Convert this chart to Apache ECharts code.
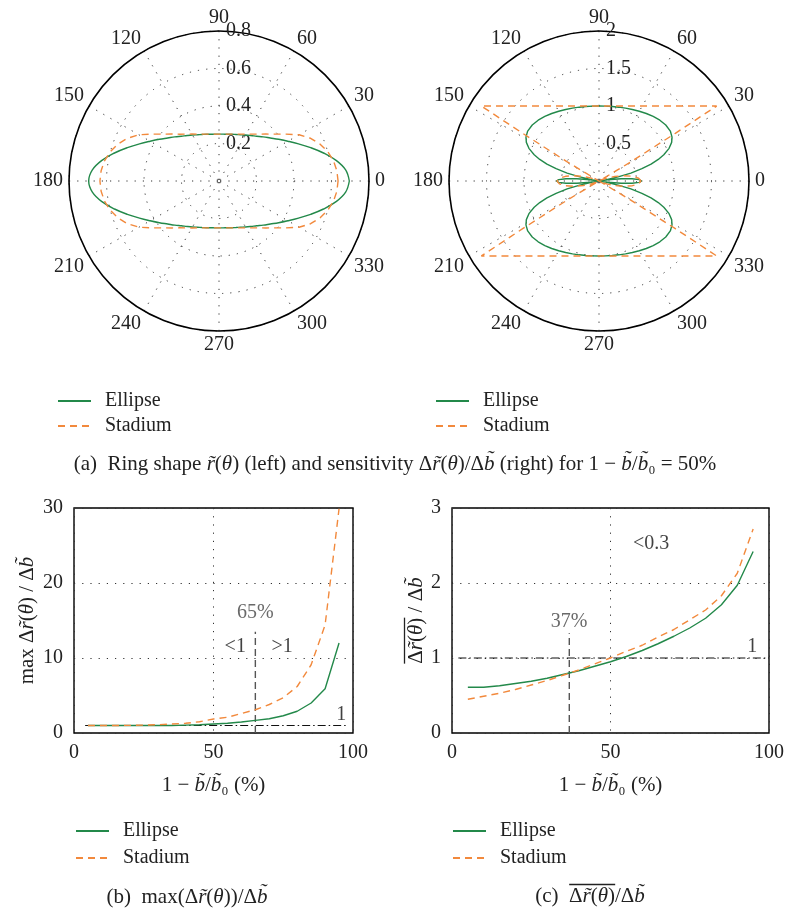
<!DOCTYPE html>
<html><head><meta charset="utf-8">
<script src="https://cdn.jsdelivr.net/npm/echarts@6/dist/echarts.min.js"></script>
<style>html,body{margin:0;padding:0;background:#fff}#c{width:787px;height:914px}</style>
</head><body><div id="c"></div><script>
const FONT = '"Liberation Serif", "DejaVu Serif", serif';
const GREEN = '#23894a';
const ORANGE = '#f2893c';

// ---- (a) left: ring shape r(theta), angles in degrees ----
const leftAngles = [0,5,10,15,20,25,30,35,40,45,50,55,60,65,70,75,80,85,90,
  95,100,105,110,115,120,125,130,135,140,145,150,155,160,165,170,175,180,
  185,190,195,200,205,210,215,220,225,230,235,240,245,250,255,260,265,270,
  275,280,285,290,295,300,305,310,315,320,325,330,335,340,345,350,355,360];
const leftEllipse = [.695,.678,.634,.577,.520,.468,.424,.388,.357,.333,.312,.296,.283,.272,.264,.258,.253,.251,.250,
  .251,.253,.258,.264,.272,.283,.296,.312,.333,.357,.388,.424,.468,.520,.577,.634,.678,.695,
  .678,.634,.577,.520,.468,.424,.388,.357,.333,.312,.296,.283,.272,.264,.258,.253,.251,.250,
  .251,.253,.258,.264,.272,.283,.296,.312,.333,.357,.388,.424,.468,.520,.577,.634,.678,.695];
const leftStadium = [.635,.631,.620,.601,.574,.539,.493,.436,.389,.354,.326,.305,.289,.276,.266,.259,.254,.251,.250,
  .251,.254,.259,.266,.276,.289,.305,.326,.354,.389,.436,.493,.539,.574,.601,.620,.631,.635,
  .631,.620,.601,.574,.539,.493,.436,.389,.354,.326,.305,.289,.276,.266,.259,.254,.251,.250,
  .251,.254,.259,.266,.276,.289,.305,.326,.354,.389,.436,.493,.539,.574,.601,.620,.631,.635];

// ---- (a) right: sensitivity ----
const rightEllipseAngles = [0,2,4,6,8,9.25,10,12,14,16,18,20,22,25,28,31,35,40,45,50,55,60,65,70,75,80,85,90,
  95,100,105,110,115,120,125,130,135,140,145,149,152,155,158,160,162,164,166,168,170,170.75,172,174,176,178,180,
  182,184,186,188,189.25,190,192,194,196,198,200,202,205,208,211,215,220,225,230,235,240,245,250,255,260,265,270,
  275,280,285,290,295,300,305,310,315,320,325,329,332,335,338,340,342,344,346,348,350,350.75,352,354,356,358,360];
const rightEllipse = [.570,.537,.441,.296,.119,0,.072,.261,.438,.595,.730,.841,.932,1.031,1.097,1.136,1.161,1.162,1.147,1.124,1.099,1.074,1.052,1.034,1.019,1.009,1.002,1.000,
  1.002,1.009,1.019,1.034,1.052,1.074,1.099,1.124,1.147,1.162,1.161,1.136,1.097,1.031,.932,.841,.730,.595,.438,.261,.072,0,.119,.296,.441,.537,.570,
  .537,.441,.296,.119,0,.072,.261,.438,.595,.730,.841,.932,1.031,1.097,1.136,1.161,1.162,1.147,1.124,1.099,1.074,1.052,1.034,1.019,1.009,1.002,1.000,
  1.002,1.009,1.019,1.034,1.052,1.074,1.099,1.124,1.147,1.162,1.161,1.136,1.097,1.031,.932,.841,.730,.595,.438,.261,.072,0,.119,.296,.441,.537,.570];
const rightStadiumAngles = [0,4,8,12,16,20,24,28,30,31,32,32.5,35,40,45,50,55,60,65,70,75,80,85,90,
  95,100,105,110,115,120,125,130,135,140,145,147.5,148,149,150,152,156,160,164,168,172,176,180,
  184,188,192,196,200,204,208,210,211,212,212.5,215,220,225,230,235,240,245,250,255,260,265,270,
  275,280,285,290,295,300,305,310,315,320,325,327.5,328,329,330,332,336,340,344,348,352,356,360];
const rightStadium = [.56,.53,.45,.34,.22,.12,.05,.01,0,.5,1.2,1.86,1.743,1.556,1.414,1.305,1.221,1.155,1.103,1.064,1.035,1.015,1.004,1.0,
  1.004,1.015,1.035,1.064,1.103,1.155,1.221,1.305,1.414,1.556,1.743,1.86,1.2,.5,0,.01,.05,.12,.22,.34,.45,.53,.56,
  .53,.45,.34,.22,.12,.05,.01,0,.5,1.2,1.86,1.743,1.556,1.414,1.305,1.221,1.155,1.103,1.064,1.035,1.015,1.004,1.0,
  1.004,1.015,1.035,1.064,1.103,1.155,1.221,1.305,1.414,1.556,1.743,1.86,1.2,.5,0,.01,.05,.12,.22,.34,.45,.53,.56];

// ---- (b), (c) ----
const reduction = [5,10,15,20,25,30,35,40,45,50,55,60,65,70,75,80,85,90,95];
const maxEllipse = [1.0,1.0,1.0,1.0,1.0,1.0,1.0,1.05,1.1,1.2,1.3,1.46,1.68,1.9,2.3,2.9,4.0,5.9,12.0];
const maxStadium = [1.0,1.0,1.0,1.02,1.05,1.1,1.2,1.3,1.5,1.86,2.1,2.6,3.1,3.8,4.7,6.2,9.1,14.4,29.9];
const meanEllipse = [.61,.61,.63,.66,.69,.73,.78,.83,.89,.95,1.02,1.10,1.19,1.29,1.40,1.53,1.71,1.97,2.42];
const meanStadium = [.45,.49,.53,.58,.64,.70,.77,.84,.92,1.0,1.09,1.17,1.28,1.38,1.51,1.64,1.83,2.13,2.72];

// reference lines and annotations
const bThresholdLine = [[65,0],[65,13.5]];
const bUnitLine = [[4,1],[98,1]];
const bNotes = [[65,16.0,'65%','#444'],[57.8,11.5,'<1','#111'],[74.6,11.5,'>1','#111'],[95.8,2.4,'1','#111']];
const cThresholdLine = [[37,0],[37,1.33]];
const cUnitLine = [[2,1],[100,1]];
const cNotes = [[36.9,1.48,'37%','#444'],[62.8,2.52,'<0.3','#111'],[94.7,1.15,'1','#111']];

const zipP = (r, a) => r.map((v, i) => [v, a[i]]);
const zipX = (x, y) => x.map((v, i) => [v, y[i]]);

const dotted = {type:[1.2,7], color:'#333', width:1};
const tickFont = {fontFamily: FONT, fontSize: 20, color: '#222'};
function richSet(size) {
  return {
    i: {fontStyle:'italic', fontFamily: FONT, fontSize: size, color:'#222'},
    n: {fontFamily: FONT, fontSize: size, color:'#222'},
    bar: {width: Math.round(size * 2.2), height: 1.3, lineHeight: 3, backgroundColor:'#222', align:'left'},
    sp: {width: Math.round(size * 1.62), height: 1, lineHeight: 3, align:'left'}
  };
}

function angleAx(idx) {
  return {polarIndex: idx, type:'value', min:0, max:360, interval:30, startAngle:0, clockwise:false,
    axisLine:{lineStyle:{color:'#000', width:1.6}}, axisTick:{show:false},
    axisLabel:Object.assign({margin:6, lineHeight:15, showMaxLabel:false}, tickFont),
    splitLine:{show:true, lineStyle:dotted}};
}
function radiusAx(idx, max, step) {
  return {polarIndex: idx, type:'value', min:0, max:max, interval:step,
    axisLine:{show:false}, axisTick:{show:false}, axisLabel:{show:false},
    splitLine:{show:true, lineStyle:dotted}};
}
function labelAngleAx(idx) {
  return {polarIndex: idx, type:'value', min:0, max:360, startAngle:90, show:false};
}
function labelRadiusAx(idx, max, step) {
  return {polarIndex: idx, type:'value', min:0, max:max, interval:step,
    axisLine:{show:false}, axisTick:{show:false}, splitLine:{show:false},
    axisLabel:Object.assign({show:true, margin:-7, align:'left', verticalAlign:'middle', showMinLabel:false}, tickFont)};
}

function lineS(name, data, extra) {
  return Object.assign({name:name, type:'line', data:data, symbol:'none', silent:true,
    lineStyle: name === 'Ellipse' ? {color:GREEN, width:1.4} : {color:ORANGE, width:1.4, type:[7,5]},
    itemStyle:{color: name === 'Ellipse' ? GREEN : ORANGE}, z:5}, extra);
}
function notes(data, xi) {
  return {type:'scatter', xAxisIndex:xi, yAxisIndex:xi, symbolSize:0, silent:true, z:6,
    data:data.map(d => ({value:[d[0], d[1]], label:{color:d[3]}, name:d[2]})),
    label:{show:true, position:'inside', formatter:p => p.name, fontFamily:FONT, fontSize:20}};
}

function legendAt(left, top, gap) {
  return {left:left, top:top, orient:'vertical', padding:0, itemWidth:33, itemHeight:14, itemGap:gap,
    data:['Ellipse','Stadium'], selectedMode:false,
    itemStyle:{opacity:0, borderWidth:0},
    textStyle:{fontFamily:FONT, fontSize:20, color:'#222', lineHeight:19, padding:[0,0,0,9]}};
}

const chart = echarts.init(document.getElementById('c'), null, {renderer:'canvas'});
chart.setOption({
  animation:false,
  backgroundColor:'#fff',
  polar:[
    {center:[219,181], radius:150},
    {center:[599,181], radius:150},
    {center:[219,181], radius:150},
    {center:[599,181], radius:150}
  ],
  angleAxis:[angleAx(0), angleAx(1), labelAngleAx(2), labelAngleAx(3)],
  radiusAxis:[radiusAx(0,0.8,0.2), radiusAx(1,2,0.5), labelRadiusAx(2,0.8,0.2), labelRadiusAx(3,2,0.5)],
  grid:[
    {left:74, top:508, width:279, height:225, show:true, borderColor:'#000', borderWidth:1.4, backgroundColor:'transparent'},
    {left:452, top:508, width:323, height:225, show:true, borderColor:'#000', borderWidth:1.4, backgroundColor:'transparent'}
  ],
  xAxis:[0,1].map(i => ({gridIndex:i, type:'value', min:0, max:100, interval:50,
    axisLine:{show:false}, axisTick:{show:false}, axisLabel:Object.assign({margin:10}, tickFont),
    splitLine:{show:true, lineStyle:dotted},
    name:'1 − {i|b̃}/{i|b̃}₀ (%)', nameLocation:'middle', nameGap:42,
    nameTextStyle:{fontFamily:FONT, fontSize:21, color:'#222', rich:richSet(21)}})),
  yAxis:[
    {gridIndex:0, type:'value', min:0, max:30, interval:10,
      axisLine:{show:false}, axisTick:{show:false}, axisLabel:Object.assign({margin:11}, tickFont),
      splitLine:{show:true, lineStyle:dotted},
      name:'max Δ{i|r̃}({i|θ}) / Δ{i|b̃}', nameLocation:'middle', nameGap:36, nameRotate:90,
      nameTextStyle:{fontFamily:FONT, fontSize:21, color:'#222', rich:richSet(21)}},
    {gridIndex:1, type:'value', min:0, max:3, interval:1,
      axisLine:{show:false}, axisTick:{show:false}, axisLabel:Object.assign({margin:11}, tickFont),
      splitLine:{show:true, lineStyle:dotted},
      name:'{bar|}\nΔ{i|r̃}({i|θ}) / Δ{i|b̃}', nameLocation:'middle', nameGap:25, nameRotate:90,
      nameTextStyle:{fontFamily:FONT, fontSize:21, color:'#222', rich:richSet(21)}}
  ],
  legend:[legendAt(57,391,5), legendAt(435,391,5), legendAt(75,821,7), legendAt(452,821,7)],
  series:[
    lineS('Ellipse', zipP(leftEllipse, leftAngles), {coordinateSystem:'polar', polarIndex:0, smooth:0.4}),
    lineS('Stadium', zipP(leftStadium, leftAngles), {coordinateSystem:'polar', polarIndex:0}),
    lineS('Ellipse', zipP(rightEllipse, rightEllipseAngles), {coordinateSystem:'polar', polarIndex:1}),
    lineS('Stadium', zipP(rightStadium, rightStadiumAngles), {coordinateSystem:'polar', polarIndex:1}),
    lineS('Ellipse', zipX(reduction, maxEllipse), {xAxisIndex:0, yAxisIndex:0}),
    lineS('Stadium', zipX(reduction, maxStadium), {xAxisIndex:0, yAxisIndex:0}),
    lineS('Ellipse', zipX(reduction, meanEllipse), {xAxisIndex:1, yAxisIndex:1}),
    lineS('Stadium', zipX(reduction, meanStadium), {xAxisIndex:1, yAxisIndex:1}),
    {type:'line', xAxisIndex:0, yAxisIndex:0, data:bThresholdLine, symbol:'none', silent:true, z:4,
      lineStyle:{color:'#555', width:1.4, type:[7,4]}},
    {type:'line', xAxisIndex:0, yAxisIndex:0, data:bUnitLine, symbol:'none', silent:true, z:4,
      lineStyle:{color:'#111', width:1.2, type:[8,3,1.5,3]}},
    {type:'line', xAxisIndex:1, yAxisIndex:1, data:cThresholdLine, symbol:'none', silent:true, z:4,
      lineStyle:{color:'#555', width:1.4, type:[7,4]}},
    {type:'line', xAxisIndex:1, yAxisIndex:1, data:cUnitLine, symbol:'none', silent:true, z:4,
      lineStyle:{color:'#111', width:1.2, type:[8,3,1.5,3]}},
    notes(bNotes, 0),
    notes(cNotes, 1)
  ],
  graphic:[
    {type:'text', x:395, y:464, style:{text:'(a)  Ring shape {i|r̃}({i|θ}) (left) and sensitivity Δ{i|r̃}({i|θ})/Δ{i|b̃} (right) for 1 − {i|b̃}/{i|b̃}₀ = 50%',
      rich:richSet(21), font:'21px ' + FONT, fill:'#222', align:'center', verticalAlign:'middle'}},
    {type:'text', x:187, y:897, style:{text:'(b)  max(Δ{i|r̃}({i|θ}))/Δ{i|b̃}',
      rich:richSet(21), font:'21px ' + FONT, fill:'#222', align:'center', verticalAlign:'middle'}},
    {type:'text', x:590, y:895, style:{text:'{sp|}{bar|}\n(c)  Δ{i|r̃}({i|θ})/Δ{i|b̃}',
      rich:richSet(21), font:'21px ' + FONT, fill:'#222', align:'center', verticalAlign:'middle'}}
  ]
});
</script></body></html>
